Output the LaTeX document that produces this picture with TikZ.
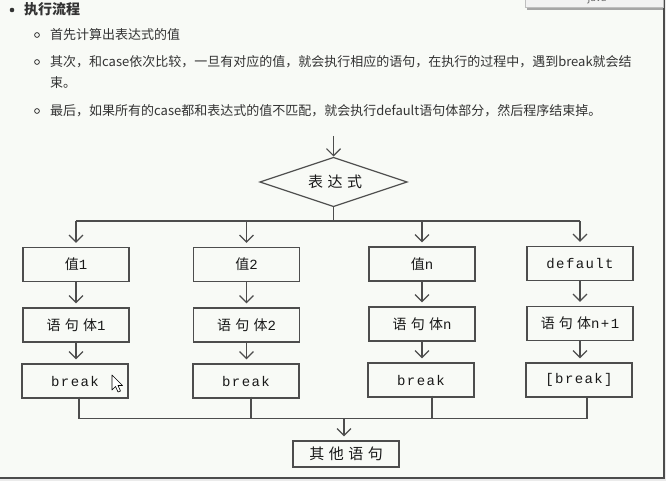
\documentclass[tikz,border=0pt]{standalone}
\usepackage{fontspec}
\usetikzlibrary{arrows.meta}
\newfontfamily\cjk{Noto Sans CJK SC}
\newfontfamily\boxcjk[LetterSpace=30]{Noto Sans CJK SC}
\newfontfamily\boxmono[LetterSpace=10]{Liberation Mono}
\definecolor{paper}{HTML}{F8FAF6}
\definecolor{ink}{HTML}{333333}
\definecolor{line}{HTML}{4D4D4D}

\begin{document}
\begin{tikzpicture}[x=1pt, y=-1pt,
    txt/.style={anchor=west, inner sep=0pt, text=ink, font=\fontsize{13}{15}\selectfont\cjk},
    box/.style={draw=line, line width=1.2pt, minimum width=106pt, minimum height=34pt,
      inner sep=0pt, text=black!90, font=\fontsize{14}{16}\selectfont\boxmono},
    arr/.style={draw=line, line width=1.2pt, shorten >=4pt, -{Straight Barb[length=7pt,width=14pt]}},
    wire/.style={draw=line, line width=1.2pt}]
    \useasboundingbox (0,0) rectangle (666,481);
    \clip (0,0) rectangle (666,481);
    \fill[paper] (0,0) rectangle (666,481);
    \fill[black!8] (664,0) rectangle (666,481);
    \fill[black!8] (0,479) rectangle (666,481);
    \draw[black!70, line width=2pt] (663.5,0) -- (663.5,477.5) -- (0,477.5);
    % popup
    \fill[black!35] (527,6) rectangle (663,10);
    \draw[black!25, fill=white!95!black] (525,-5) rectangle (663,7);
    \node[text=black!60, font=\fontsize{10}{12}\selectfont\cjk] (popup) at (597,-1) {java};

    % text above
    \fill[ink] (12,10) circle (2.3);
    \node[txt, font=\fontsize{14}{16}\selectfont\cjk\bfseries] (title) at (24,9) {执行流程};
    \foreach \y in {35,62,111}
      \draw[ink, line width=0.8pt] (37,\y) circle (2.4);
    \node[txt] (t1) at (50,35) {首先计算出表达式的值};
    \node[txt] (t2) at (50,62) {其次，和case依次比较，一旦有对应的值，就会执行相应的语句，在执行的过程中，遇到break就会结};
    \node[txt] (t3) at (50,83) {束。};
    \node[txt] (t4) at (50,111) {最后，如果所有的case都和表达式的值不匹配，就会执行default语句体部分，然后程序结束掉。};

    % flowchart
    \coordinate (in) at (333.5,136);
    \node[inner sep=0pt, text=black!90, font=\fontsize{15}{17}\selectfont\boxcjk] (expr) at (335,182) {表达式};
    \coordinate (etop) at (333.5,157.5);
    \coordinate (ebot) at (333.5,206.5);
    \draw[wire, line join=miter] (260,182) -- (etop) -- (407,182) -- (ebot) -- cycle;
    \coordinate (bus) at (333.5,221);

    \node[box] (v1) at (76,264.5) {{\boxcjk 值}1};
    \node[box] (v2) at (246.5,264.5) {{\boxcjk 值}2};
    \node[box] (vn) at (422,264) {{\boxcjk 值}n};
    \node[box] (vd) at (580,263.5) {default};

    \node[box] (s1) at (76,325) {{\boxcjk 语句体}1};
    \node[box] (s2) at (246.5,325) {{\boxcjk 语句体}2};
    \node[box] (sn) at (422,324) {{\boxcjk 语句体}n};
    \node[box] (sd) at (580,323.5) {{\boxcjk 语句体}n+1};

    \node[box] (b1) at (75,381) {break};
    \node[box] (b2) at (246,381) {break};
    \node[box] (bn) at (421,380) {break};
    \node[box] (bd) at (579,380) {[break]};

    \coordinate (join) at (344,418.5);
    \node[box, minimum height=26pt, font=\fontsize{15}{17}\selectfont\boxcjk] (other) at (346,454) {其他语句};

    \draw[arr, shorten >=1pt] (in) -- (etop);
    \draw[wire] (ebot) -- (bus);
    \draw[wire] (v1.north |- bus) -- (vd.north |- bus);
    \foreach \n in {v1,v2,vn,vd}
      \draw[arr] (\n.north |- bus) -- (\n.north);
    \draw[arr] (v1) -- (s1);
    \draw[arr] (v2) -- (s2);
    \draw[arr] (vn) -- (sn);
    \draw[arr] (vd) -- (sd);
    \draw[arr] (s1.south) -- (s1.south |- b1.north);
    \draw[arr] (s2.south) -- (s2.south |- b2.north);
    \draw[arr] (sn.south) -- (sn.south |- bn.north);
    \draw[arr] (sd.south) -- (sd.south |- bd.north);
    \draw[wire] ([xshift=4pt,yshift=2pt]b1.south) -- ([xshift=4pt]b1.south |- join)
      -- ([xshift=8pt]bd.south |- join) -- ([xshift=8pt,yshift=2pt]bd.south);
    \draw[wire] ([xshift=5pt,yshift=2pt]b2.south) -- ([xshift=5pt]b2.south |- join);
    \draw[wire] ([xshift=11pt,yshift=2pt]bn.south) -- ([xshift=11pt]bn.south |- join);
    \draw[arr] (join) -- (join |- other.north);

    % mouse pointer
    \draw[black, fill=white, line width=0.6pt, line join=round] (112,375) -- (112,390)
      -- (115.5,386.5) -- (118,392) -- (120.5,391) -- (118,385.5) -- (122.5,385.5) -- cycle;
\end{tikzpicture}
\end{document}
